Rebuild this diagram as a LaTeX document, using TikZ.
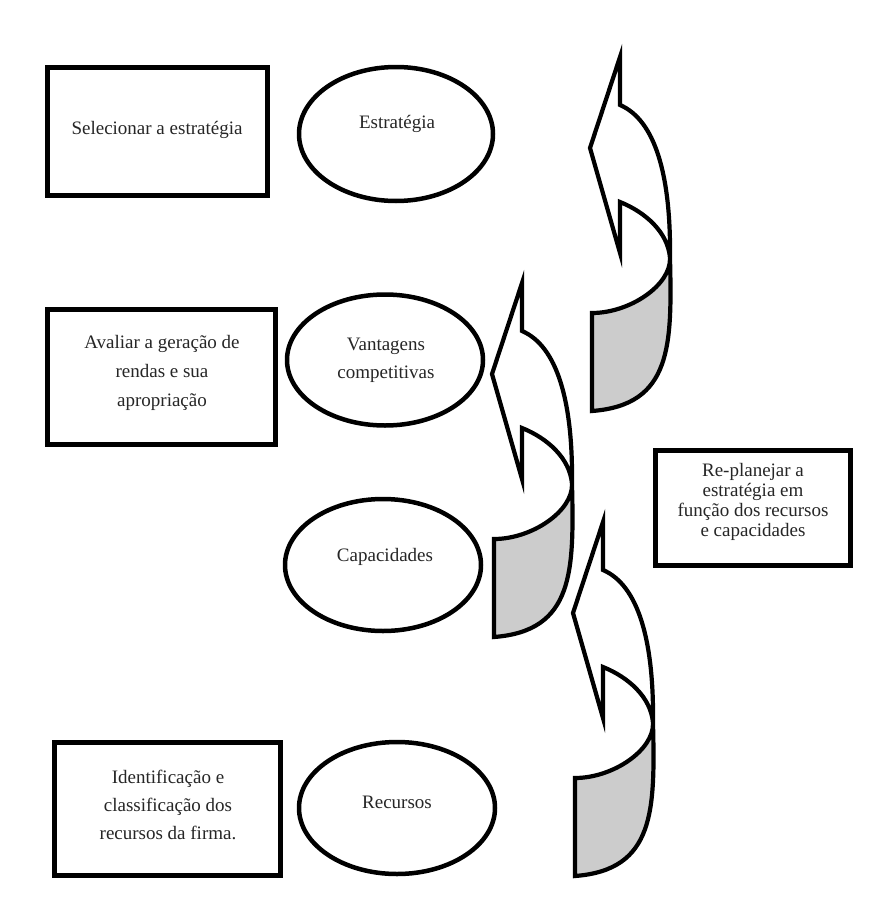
\documentclass[tikz,border=0pt]{standalone}
\usepackage{fontspec}
\setmainfont{Liberation Serif}
\usetikzlibrary{shapes.geometric}
\tikzset{
  boxshape/.style={draw=black, line width=5pt, rectangle, inner sep=0pt},
  ellshape/.style={draw=black, line width=4.5pt, ellipse, inner sep=0pt},
  lbl/.style={align=center, font=\fontsize{19}{28}\selectfont, text=black!85, inner sep=0pt},
  tightlbl/.style={lbl, font=\fontsize{19}{20}\selectfont},
  bandline/.style={draw=black, line width=4.2pt, line join=miter, miter limit=20},
  curvearrow/.pic={
    \fill[black!20] (-28,256) .. controls (10,256) and (51,228) .. (50,201)
       .. controls (52,288) and (52,348) .. (-28,354) -- cycle;
    \draw[bandline] (0,0) -- (0,48) .. controls (35,63) and (51,118) .. (50,201)
       .. controls (52,288) and (52,348) .. (-28,354) -- (-28,256)
       .. controls (10,256) and (51,228) .. (50,201)
       .. controls (48,175) and (25,155) .. (0,145) -- (0,196) -- (-30,91) -- cycle;
  }
}
\begin{document}
\begin{tikzpicture}[x=1pt,y=-1pt]
\useasboundingbox[fill=white] (0,0) rectangle (880,913);

% boxes
\node[boxshape, minimum width=220pt, minimum height=128pt] (b1) at (157.5,131.5) {};
\node[boxshape, minimum width=228pt, minimum height=135pt] (b2) at (161.5,377) {};
\node[boxshape, minimum width=195pt, minimum height=115pt] (b3) at (753,508) {};
\node[boxshape, minimum width=226pt, minimum height=133pt] (b4) at (167.5,809) {};

% ellipses
\node[ellshape, minimum width=194pt, minimum height=134pt] (e1) at (396,134) {};
\node[ellshape, minimum width=196pt, minimum height=131pt] (e2) at (385,360) {};
\node[ellshape, minimum width=196pt, minimum height=132pt] (e3) at (383,565) {};
\node[ellshape, minimum width=196pt, minimum height=132pt] (e4) at (397,808) {};

% texts
\node[lbl] (t1) at (157,130) {Selecionar a estratégia};
\node[lbl, font=\fontsize{19}{29}\selectfont] (t2) at (162,373) {Avaliar a geração de\\rendas e sua\\apropriação};
\node[tightlbl] (t3) at (753,502) {Re-planejar a\\estratégia em\\função dos recursos\\e capacidades};
\node[lbl] (t4) at (168,805) {Identificação e\\classificação dos\\recursos da firma.};
\node[lbl] (te1) at (397,124) {Estratégia};
\node[lbl] (te2) at (386,360) {Vantagens\\competitivas};
\node[lbl] (te3) at (385,557) {Capacidades};
\node[lbl] (te4) at (397,802) {Recursos};

% curved arrows
\pic at (620,57) {curvearrow};
\pic at (522,283) {curvearrow};
\pic at (603,522) {curvearrow};
\end{tikzpicture}
\end{document}
